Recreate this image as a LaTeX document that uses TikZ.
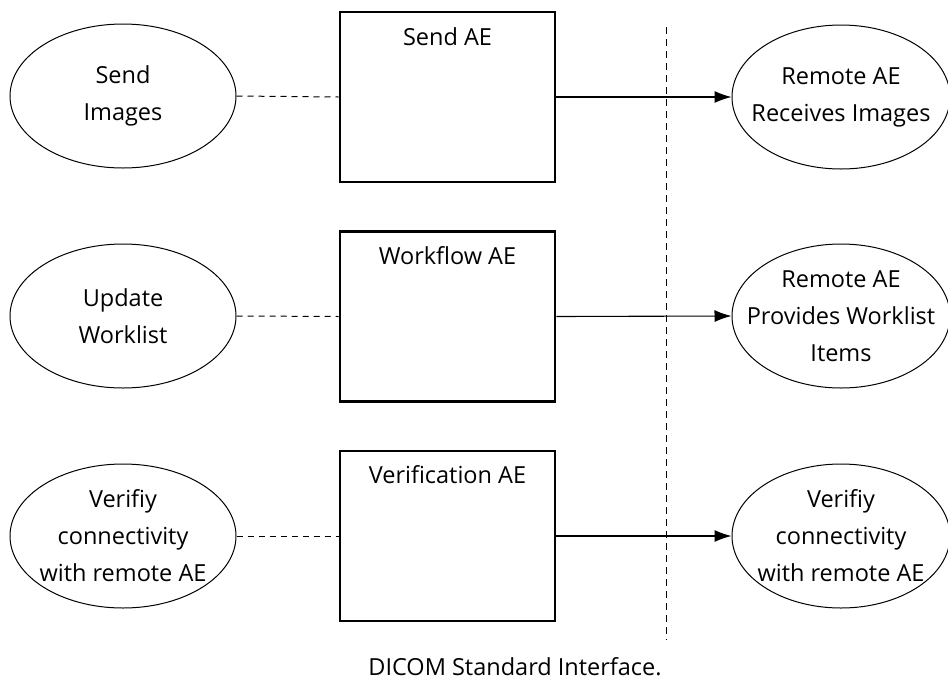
\documentclass[tikz,border=0pt]{standalone}
\usepackage{fontspec}
\setmainfont{Open Sans}
\usetikzlibrary{shapes.geometric,arrows.meta}
\tikzset{
  usecase/.style={ellipse, draw, line width=1pt, inner xsep=-40pt, inner ysep=-6pt, align=center,
    minimum width=226pt, minimum height=144pt, font=\fontsize{23.5}{37}\selectfont},
  remote/.style={usecase, minimum width=218pt},
  aebox/.style={rectangle, draw, line width=2.6pt, minimum width=215pt, minimum height=170pt, inner sep=0pt},
  aetitle/.style={anchor=base, inner sep=0pt, font=\fontsize{23.5}{37}\selectfont},
  link/.style={line width=1pt, dash pattern=on 6pt off 5pt},
  send/.style={line width=1.1pt, -{Latex[length=17pt,width=12pt]}},
  boundary/.style={line width=1pt, dash pattern=on 7pt off 5pt},
}
\begin{document}
\begin{tikzpicture}[x=1pt,y=-1pt]
\useasboundingbox (0,0) rectangle (948,689);
\clip (0,0) rectangle (948,689);
% left use cases
\node[usecase] (u1) at (123,96) {Send\\Images};
\node[usecase] (u2) at (123,316) {Update\\Worklist};
\node[usecase] (u3) at (123,536) {Verifiy\\connectivity\\with remote AE};
% AE boxes
\node[aebox] (b1) at (447.5,97) {};
\node[aebox] (b2) at (447.5,316.5) {};
\node[aebox] (b3) at (447.5,536) {};
\node[aetitle] (t1) at ([yshift=-35pt]b1.north) {Send AE};
\node[aetitle] (t2) at ([yshift=-34pt]b2.north) {Workflow AE};
\node[aetitle] (t3) at ([yshift=-34pt]b3.north) {Verification AE};
% remote
\node[remote] (r1) at (841,97) {Remote AE\\Receives Images};
\node[remote] (r2) at (841,316) {Remote AE\\Provides Worklist\\Items};
\node[remote] (r3) at (841,536) {Verifiy\\connectivity\\with remote AE};
% boundary
\coordinate (btop) at (666,27);
\coordinate (bbot) at (666,640);
\draw[boundary] (btop) -- (bbot);
% connectors
\draw[link] (u1.east) -- (b1.west);
\draw[link] (u2.east) -- (b2.west);
\draw[link] (u3.east) -- (b3.west);
\draw[send] (b1.east) -- (r1.west);
\draw[send] (b2.east) -- (r2.west);
\draw[send] (b3.east) -- (r3.west);
% caption
\node[aetitle] (cap) at (515,675) {DICOM Standard Interface.};
\end{tikzpicture}
\end{document}
